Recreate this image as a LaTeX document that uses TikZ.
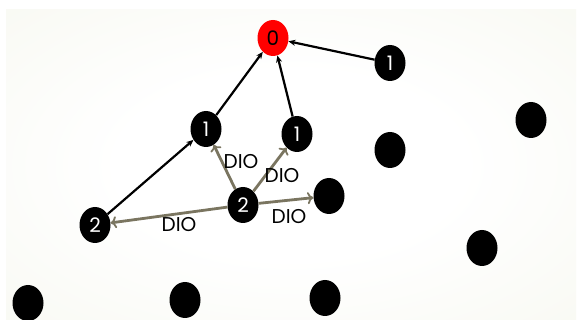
\documentclass[tikz,border=0pt]{standalone}
\usepackage{fontspec}
\setmainfont{Poppins}
\usetikzlibrary{arrows.meta,shapes.geometric}
\definecolor{bgouter}{RGB}{238,240,224}
\definecolor{dio}{RGB}{122,117,96}
\pgfdeclareradialshading{bgsh}{\pgfpoint{0bp}{0bp}}{color(0bp)=(white); color(15bp)=(white); color(72bp)=(bgouter)}
\begin{document}
\begin{tikzpicture}[x=1pt,y=-1pt,
  nd/.style={ellipse,fill=black,minimum width=31pt,minimum height=36pt,inner sep=0pt,text=white,font=\fontsize{20}{20}\selectfont},
  root/.style={nd,fill=red,text=black},
  blk/.style={-{Stealth[length=7pt,width=6pt]},line width=2.2pt,black},
  dioa/.style={-{To[length=6pt,width=12pt,line width=1.8pt]},line width=2.8pt,dio},
  lab/.style={font=\fontsize{20}{20}\selectfont,inner sep=0pt}]
\useasboundingbox (0,0) rectangle (581,320);
\fill[white] (0,0) rectangle (581,320);
\shade[shading=bgsh] (6,10) rectangle (576,320);
\node[root] (n0) at (273,38) {0};
\node[nd] (a1) at (390,63) {1};
\node[nd] (b1) at (206,129) {1};
\node[nd] (c1) at (297,134) {1};
\node[nd] (d2) at (95,225) {2};
\node[nd] (e2) at (243,205) {2};
\node[nd] (f) at (329,196) {};
\node[nd] (g) at (390,150) {};
\node[nd] (h) at (531,120) {};
\node[nd] (i) at (482,248) {};
\node[nd] (j) at (28,303) {};
\node[nd] (k) at (185,300) {};
\node[nd] (l) at (325,298) {};
\draw[blk] (b1) -- (n0);
\draw[blk] (c1) -- (n0);
\draw[blk] (a1) -- (n0);
\draw[blk] (d2) -- (b1);
\draw[dioa] (e2) -- (b1);
\draw[dioa] (e2) -- (c1);
\draw[dioa] (e2) -- (f);
\draw[dioa] (e2) -- (d2);
\node[lab] (l1) at (241,162) {DIO};
\node[lab] (l2) at (282,176) {DIO};
\node[lab] (l3) at (179,225) {DIO};
\node[lab] (l4) at (289,217) {DIO};
\end{tikzpicture}
\end{document}
